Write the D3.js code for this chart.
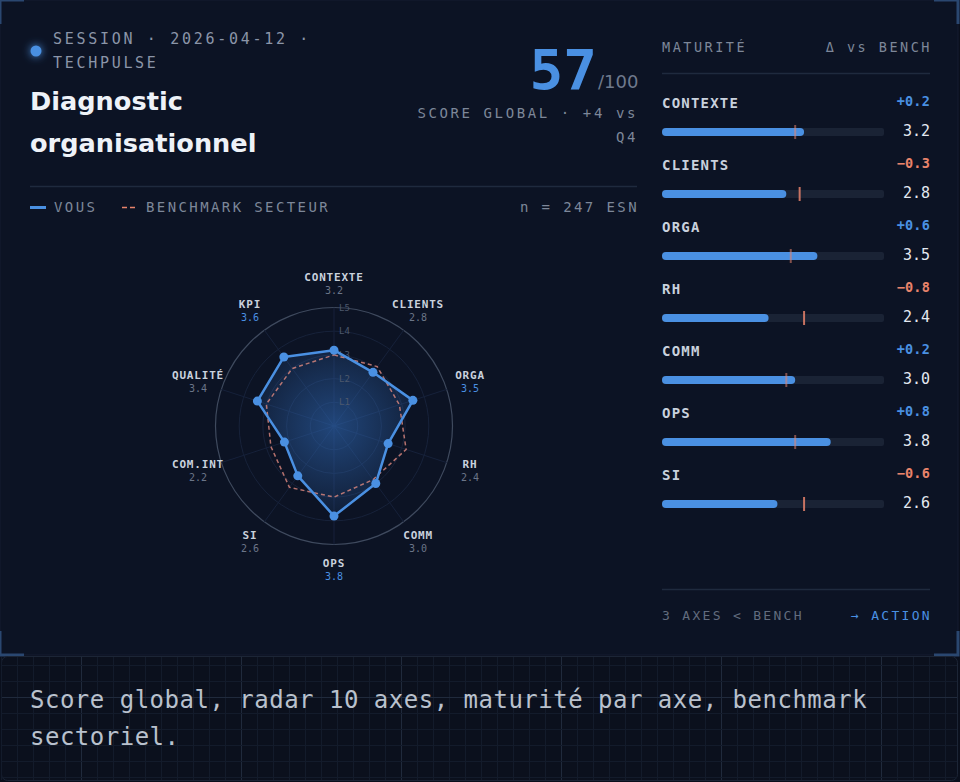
<!DOCTYPE html>
<html>
<head>
<meta charset="utf-8">
<script src="https://cdn.jsdelivr.net/npm/d3@7"></script>
<style>
  html, body { margin: 0; padding: 0; background: #0a0f1c; }
  svg { display: block; }
</style>
</head>
<body>
<div id="chart"></div>
<script>
// radar axes, in clockwise order from the top
const axes = ['CONTEXTE', 'CLIENTS', 'ORGA', 'RH', 'COMM', 'OPS', 'SI', 'COM.INT', 'QUALITÉ', 'KPI'];
const scores = [3.2, 2.8, 3.5, 2.4, 3.0, 3.8, 2.6, 2.2, 3.4, 3.6];
const bench = [3.0, 3.1, 2.9, 3.2, 2.8, 3.0, 3.2, 2.8, 3.0, 3.0];
const levels = ['L1', 'L2', 'L3', 'L4', 'L5'];

// maturity panel only lists the first 7 axes
const panelAxes = ['CONTEXTE', 'CLIENTS', 'ORGA', 'RH', 'COMM', 'OPS', 'SI'];

const headerLines = ['SESSION · 2026-04-12 ·', 'TECHPULSE'];
const titleLines = ['Diagnostic', 'organisationnel'];
const globalScore = 57;
const scoreLines = ['SCORE GLOBAL · +4 vs', 'Q4'];
const captionLines = ['Score global, radar 10 axes, maturité par axe, benchmark', 'sectoriel.'];

const W = 960;
const H = 782;
const BLUE = '#4a90e2';
const SALMON = '#e8836b';
const MONO = '"DejaVu Sans Mono", monospace';
const SANS = '"DejaVu Sans", sans-serif';

const svg = d3.select('#chart')
  .append('svg')
  .attr('width', W)
  .attr('height', H);

const defs = svg.append('defs');

const glow = defs.append('filter').attr('id', 'glow')
  .attr('x', '-150%').attr('y', '-150%').attr('width', '400%').attr('height', '400%');
glow.append('feGaussianBlur').attr('stdDeviation', 4).attr('result', 'b');
const merge = glow.append('feMerge');
merge.append('feMergeNode').attr('in', 'b');
merge.append('feMergeNode').attr('in', 'SourceGraphic');

// card
svg.append('rect')
  .attr('x', 0).attr('y', 0).attr('width', 958).attr('height', 655)
  .attr('fill', '#0c1324')
  .attr('stroke', '#141d30');

// corner brackets
const bracket = '#2a4770';
[[0, 0, 1, 1], [958, 0, -1, 1], [0, 655, 1, -1], [958, 655, -1, -1]].forEach(([x, y, sx, sy]) => {
  svg.append('path')
    .attr('d', `M${x},${y + sy * 24} L${x},${y} L${x + sx * 24},${y}`)
    .attr('fill', 'none')
    .attr('stroke', bracket)
    .attr('stroke-width', 3);
});

// ---------- header left ----------
svg.append('circle')
  .attr('cx', 36).attr('cy', 51).attr('r', 5.5)
  .attr('fill', BLUE)
  .attr('filter', 'url(#glow)');

svg.append('g').selectAll('text')
  .data(headerLines)
  .join('text')
  .attr('x', 53)
  .attr('y', (d, i) => 44 + i * 24)
  .style('font-family', MONO)
  .style('font-size', '15px')
  .style('letter-spacing', '2.7px')
  .attr('fill', '#8b95a8')
  .text(d => d);

svg.append('g').selectAll('text')
  .data(titleLines)
  .join('text')
  .attr('x', 30)
  .attr('y', (d, i) => 110 + i * 42)
  .style('font-family', SANS)
  .style('font-weight', 'bold')
  .style('font-size', '25.6px')
  .attr('fill', '#eef2f8')
  .text(d => d);

// ---------- score ----------
svg.append('text')
  .attr('x', 597).attr('y', 89)
  .attr('text-anchor', 'end')
  .style('font-family', MONO)
  .style('font-weight', 'bold')
  .style('font-size', '56px')
  .attr('fill', BLUE)
  .text(globalScore);

svg.append('text')
  .attr('x', 598).attr('y', 88)
  .style('font-family', SANS)
  .style('font-size', '18px')
  .attr('fill', '#6f7a8d')
  .text('/100');

svg.append('g').selectAll('text')
  .data(scoreLines)
  .join('text')
  .attr('x', 638)
  .attr('y', (d, i) => 118 + i * 24)
  .attr('text-anchor', 'end')
  .style('font-family', MONO)
  .style('font-size', '14px')
  .style('letter-spacing', '2.6px')
  .attr('fill', '#7d8799')
  .text(d => d);

svg.append('line')
  .attr('x1', 30).attr('x2', 637).attr('y1', 186.5).attr('y2', 186.5)
  .attr('stroke', '#1f2a3e').attr('stroke-width', 1.5);

// ---------- legend ----------
const legend = svg.append('g').style('font-family', MONO).style('font-size', '14px').style('letter-spacing', '2.4px');
legend.append('line')
  .attr('x1', 30).attr('x2', 46).attr('y1', 207.5).attr('y2', 207.5)
  .attr('stroke', BLUE).attr('stroke-width', 3);
legend.append('text').attr('x', 54).attr('y', 212).attr('fill', '#7d8799').text('VOUS');
legend.append('line')
  .attr('x1', 122).attr('x2', 138).attr('y1', 207.5).attr('y2', 207.5)
  .attr('stroke', SALMON).attr('stroke-width', 1.5).attr('stroke-dasharray', '5 3');
legend.append('text').attr('x', 146).attr('y', 212).attr('fill', '#7d8799').text('BENCHMARK SECTEUR');
legend.append('text').attr('x', 639).attr('y', 212).attr('text-anchor', 'end').attr('fill', '#7d8799').text('n = 247 ESN');

// ---------- radar ----------
const cx = 334;
const cy = 426;
const R = 118.5;
const rScale = d3.scaleLinear().domain([0, 5]).range([0, R]);
const aScale = d3.scaleLinear().domain([0, axes.length]).range([0, 2 * Math.PI]);
const polar = (i, v) => [Math.sin(aScale(i)) * rScale(v), -Math.cos(aScale(i)) * rScale(v)];

const radar = svg.append('g').attr('transform', `translate(${cx},${cy})`);

const grad = defs.append('radialGradient').attr('id', 'radarFill')
  .attr('gradientUnits', 'userSpaceOnUse')
  .attr('cx', 0).attr('cy', 0).attr('r', R * 0.9);
grad.append('stop').attr('offset', '0%').attr('stop-color', '#2f68b4').attr('stop-opacity', 0.6);
grad.append('stop').attr('offset', '100%').attr('stop-color', '#2f68b4').attr('stop-opacity', 0.04);

// grid rings
radar.append('g').selectAll('circle')
  .data(levels)
  .join('circle')
  .attr('r', (d, i) => rScale(i + 1))
  .attr('fill', 'none')
  .attr('stroke', (d, i) => i === levels.length - 1 ? '#3f4a5e' : '#17223a')
  .attr('stroke-width', (d, i) => i === levels.length - 1 ? 1.2 : 1);

// spokes
radar.append('g').selectAll('line')
  .data(axes)
  .join('line')
  .attr('x2', (d, i) => polar(i, 5)[0])
  .attr('y2', (d, i) => polar(i, 5)[1])
  .attr('stroke', '#16213a')
  .attr('stroke-width', 1);

const radial = d3.lineRadial()
  .angle((d, i) => aScale(i))
  .radius(d => rScale(d))
  .curve(d3.curveLinearClosed);

radar.append('path')
  .datum(scores)
  .attr('d', radial)
  .attr('fill', 'url(#radarFill)')
  .attr('stroke', 'none');

// level labels
radar.append('g').selectAll('text')
  .data(levels)
  .join('text')
  .attr('x', 5)
  .attr('y', (d, i) => -rScale(i + 1))
  .attr('dy', '0.35em')
  .style('font-family', MONO)
  .style('font-size', '9px')
  .attr('fill', '#4d586c')
  .text(d => d);

// benchmark
radar.append('path')
  .datum(bench)
  .attr('d', radial)
  .attr('fill', 'none')
  .attr('stroke', '#e08a80')
  .attr('stroke-opacity', 0.8)
  .attr('stroke-width', 1.5)
  .attr('stroke-dasharray', '4 3');

// score polygon
radar.append('path')
  .datum(scores)
  .attr('d', radial)
  .attr('fill', 'none')
  .attr('stroke', BLUE)
  .attr('stroke-width', 2.5)
  .attr('stroke-linejoin', 'round');

radar.append('g').selectAll('circle')
  .data(scores)
  .join('circle')
  .attr('cx', (d, i) => polar(i, d)[0])
  .attr('cy', (d, i) => polar(i, d)[1])
  .attr('r', 4.5)
  .attr('fill', BLUE);

// axis labels
const labels = radar.append('g').selectAll('g')
  .data(axes)
  .join('g')
  .attr('transform', (d, i) => {
    const a = aScale(i);
    return `translate(${Math.sin(a) * 143},${-Math.cos(a) * 143})`;
  });

labels.append('text')
  .attr('y', -2.5)
  .attr('text-anchor', 'middle')
  .style('font-family', MONO)
  .style('font-weight', 'bold')
  .style('font-size', '11px')
  .style('letter-spacing', '0.8px')
  .attr('fill', '#c9d1dd')
  .text(d => d);

labels.append('text')
  .attr('y', 10.5)
  .attr('text-anchor', 'middle')
  .style('font-family', MONO)
  .style('font-size', '10px')
  .attr('fill', (d, i) => scores[i] >= 3.5 ? BLUE : '#6b7588')
  .text((d, i) => scores[i].toFixed(1));

// ---------- maturity panel ----------
const px0 = 662;
const px1 = 930;
const xBar = d3.scaleLinear().domain([0, 5]).range([662, 884]);

const panelHead = svg.append('g').style('font-family', MONO).style('font-size', '13.5px').style('letter-spacing', '2.5px').attr('fill', '#7d8799');
panelHead.append('text').attr('x', px0).attr('y', 52).text('MATURITÉ');
panelHead.append('text').attr('x', px1 + 2).attr('y', 52).attr('text-anchor', 'end').text('Δ vs BENCH');

svg.append('line')
  .attr('x1', px0).attr('x2', px1).attr('y1', 73.5).attr('y2', 73.5)
  .attr('stroke', '#1f2a3e').attr('stroke-width', 1.5);

const rows = svg.append('g').selectAll('g')
  .data(panelAxes)
  .join('g')
  .attr('transform', (d, i) => `translate(0,${108 + i * 62})`);

rows.append('text')
  .attr('x', px0)
  .style('font-family', MONO)
  .style('font-weight', 'bold')
  .style('font-size', '14px')
  .style('letter-spacing', '1.2px')
  .attr('fill', '#c9d1dd')
  .text(d => d);

rows.append('text')
  .attr('x', px1)
  .attr('y', -2)
  .attr('text-anchor', 'end')
  .style('font-family', MONO)
  .style('font-weight', 'bold')
  .style('font-size', '13.5px')
  .style('letter-spacing', '0.2px')
  .attr('fill', d => {
    const i = axes.indexOf(d);
    return scores[i] - bench[i] >= 0 ? BLUE : SALMON;
  })
  .text(d => {
    const i = axes.indexOf(d);
    return d3.format('+.1f')(scores[i] - bench[i]);
  });

rows.append('rect')
  .attr('x', xBar(0))
  .attr('y', 20)
  .attr('width', xBar(5) - xBar(0))
  .attr('height', 8)
  .attr('rx', 2)
  .attr('fill', '#1a2335');

rows.append('rect')
  .attr('x', xBar(0))
  .attr('y', 20)
  .attr('width', d => xBar(scores[axes.indexOf(d)]) - xBar(0))
  .attr('height', 8)
  .attr('rx', 4)
  .attr('fill', BLUE);

rows.append('line')
  .attr('x1', d => xBar(bench[axes.indexOf(d)]))
  .attr('x2', d => xBar(bench[axes.indexOf(d)]))
  .attr('y1', 17)
  .attr('y2', 31)
  .attr('stroke', SALMON)
  .attr('stroke-opacity', d => scores[axes.indexOf(d)] > bench[axes.indexOf(d)] ? 0.55 : 0.85)
  .attr('stroke-width', 2);

rows.append('text')
  .attr('x', px1)
  .attr('y', 28)
  .attr('text-anchor', 'end')
  .style('font-family', MONO)
  .style('font-size', '15px')
  .attr('fill', '#e4e9f1')
  .text(d => scores[axes.indexOf(d)].toFixed(1));

svg.append('line')
  .attr('x1', px0).attr('x2', px1).attr('y1', 589.5).attr('y2', 589.5)
  .attr('stroke', '#1f2a3e').attr('stroke-width', 1.5);

const below = panelAxes.filter(d => scores[axes.indexOf(d)] < bench[axes.indexOf(d)]).length;
const foot = svg.append('g').style('font-family', MONO).style('font-size', '13px').style('letter-spacing', '2.3px');
foot.append('text').attr('x', px0).attr('y', 620).attr('fill', '#626c7e').text(`${below} AXES < BENCH`);
foot.append('text').attr('x', px1 + 2).attr('y', 620).attr('text-anchor', 'end').attr('fill', BLUE).text('→ ACTION');

// ---------- caption ----------
const cap = svg.append('g');
cap.append('rect')
  .attr('x', 1.5).attr('y', 656.5).attr('width', 956).attr('height', 124)
  .attr('rx', 6)
  .attr('fill', '#0b101d')
  .attr('stroke', '#1c2536');

const gridX = d3.range(1, 958, 16);
const gridY = d3.range(665, 781, 16);
cap.append('g').selectAll('line')
  .data(gridX)
  .join('line')
  .attr('x1', d => d + 0.5).attr('x2', d => d + 0.5)
  .attr('y1', 657).attr('y2', 780)
  .attr('stroke', (d, i) => (i % 10 === 5) ? '#202a3c' : '#131b2b');
cap.append('g').selectAll('line')
  .data(gridY)
  .join('line')
  .attr('x1', 2).attr('x2', 957)
  .attr('y1', d => d + 0.5).attr('y2', d => d + 0.5)
  .attr('stroke', d => d === 697 ? '#202a3c' : '#131b2b');

cap.append('g').selectAll('text')
  .data(captionLines)
  .join('text')
  .attr('x', 30)
  .attr('y', (d, i) => 708 + i * 37)
  .style('font-family', MONO)
  .style('font-size', '24px')
  .style('letter-spacing', '0.5px')
  .attr('fill', '#b9c1cd')
  .text(d => d);
</script>
</body>
</html>
